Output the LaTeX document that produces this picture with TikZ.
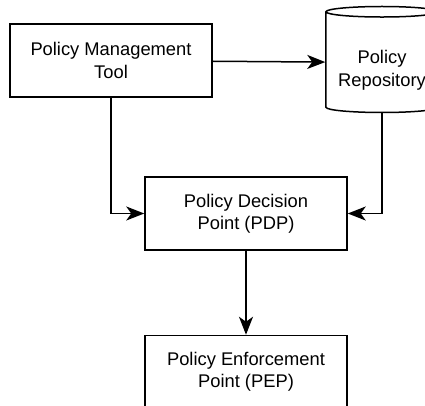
\documentclass[tikz,border=0pt]{standalone}
\usepackage{fontspec}
\setmainfont{Liberation Sans}
\usetikzlibrary{arrows.meta,positioning,shapes.geometric}

\begin{document}
\begin{tikzpicture}[x=1bp,y=1bp,line width=1.5bp,
    txt/.style={align=center,inner sep=0pt,font=\fontsize{18.4}{22.5}\selectfont},
    blk/.style={txt,draw,minimum width=202bp,minimum height=73bp},
    store/.style={txt,draw,cylinder,shape border rotate=90,aspect=0.12,
      minimum width=112bp,minimum height=106bp},
    arr/.style={-{Stealth[length=18bp,width=14bp,inset=5bp]}}]
 \clip (0,0) rectangle (425,406);
 \node[blk] (pmt) at (111,345.5) {Policy Management\\Tool};
 % strut on the first line pushes the text a bit lower in the drum
 \node[store] (repo) at (382,343.5) {\rule{0pt}{29bp}Policy\\Repository};
 \node[blk] (pdp) at (246,192.5) {Policy Decision\\Point (PDP)};
 \node[blk,below=84bp of pdp] (pep) {Policy Enforcement\\Point (PEP)};
 \draw[arr] (pmt) -- (repo);
 \draw[arr] (pmt) |- (pdp);
 \draw[arr] (repo) |- (pdp);
 \draw[arr] (pdp) -- (pep);
\end{tikzpicture}
\end{document}
